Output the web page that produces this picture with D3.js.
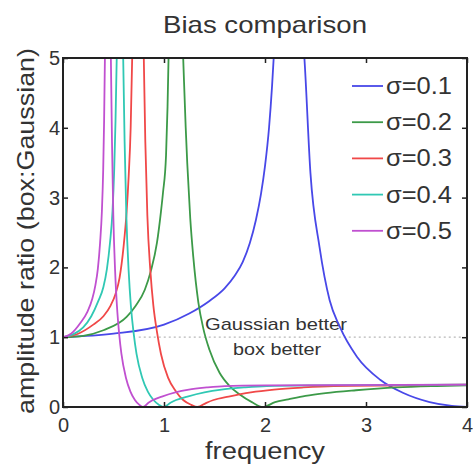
<!DOCTYPE html>
<html>
<head>
<meta charset="utf-8">
<style>
  body { margin: 0; background: #fff; }
  svg { display: block; font-family: "Liberation Sans", Arial, sans-serif; }
</style>
</head>
<body>
<script src="https://d3js.org/d3.v7.min.js"></script>
<script>
// values: [frequency, amplitude ratio], null = break at the asymptote
const freqTicks = [0, 1, 2, 3, 4];
const ampTicks = [0, 1, 2, 3, 4, 5];
const sigmaLabels = ["σ=0.1", "σ=0.2", "σ=0.3", "σ=0.4", "σ=0.5"];
const sigmaColors = ["#4848e8", "#3c9a48", "#f04848", "#30c8b4", "#c050d0"];

const sigma01 = [[0,1],[0.5,1.05],[1.0,1.18],[1.25,1.34],[1.45,1.52],[1.6,1.7],[1.7,1.88],[1.78,2.08],
  [1.85,2.35],[1.91,2.68],[1.96,3.05],[2.0,3.45],[2.04,4.0],[2.07,4.6],[2.09,5.1],[2.1,5.4], null,
  [2.37,5.4],[2.39,5.0],[2.45,3.35],[2.54,2.29],[2.64,1.53],[2.74,1.15],[2.91,0.72],[3.14,0.39],
  [3.37,0.2],[3.63,0.07],[3.85,0.015],[4,0]];
const sigma02 = [[0,1],[0.2,1.02],[0.4,1.1],[0.63,1.29],[0.72,1.45],[0.81,1.68],[0.87,1.95],[0.93,2.35],
  [0.97,2.8],[0.99,3.07],[1.02,3.6],[1.035,4.3],[1.045,5.0],[1.05,5.4], null,
  [1.18,5.4],[1.19,5.0],[1.215,4.0],[1.23,3.5],[1.26,2.7],[1.29,2.15],[1.34,1.5],[1.39,1.12],[1.45,0.82],
  [1.55,0.49],[1.65,0.3],[1.75,0.18],[1.87,0.07],[1.98,0],[2.1,0.07],[2.23,0.11],[2.4,0.16],[2.6,0.2],
  [2.9,0.24],[3.3,0.28],[3.7,0.3],[4,0.31]];
const sigma03 = [[0,1],[0.15,1.05],[0.3,1.18],[0.4,1.3],[0.47,1.45],[0.52,1.62],[0.56,1.85],[0.6,2.3],
  [0.63,2.8],[0.65,3.3],[0.67,4.0],[0.685,5.0],[0.69,5.4], null,
  [0.795,5.4],[0.8,5.0],[0.815,3.8],[0.835,2.75],[0.865,1.95],[0.895,1.45],[0.93,1.08],[0.97,0.76],
  [1.04,0.42],[1.12,0.22],[1.19,0.1],[1.27,0.03],[1.33,0],[1.42,0.06],[1.49,0.1],[1.64,0.15],[1.86,0.21],
  [2.09,0.25],[2.38,0.28],[2.68,0.3],[3.35,0.31],[4,0.32]];
const sigma04 = [[0,1],[0.1,1.04],[0.2,1.14],[0.28,1.3],[0.35,1.52],[0.4,1.72],[0.435,1.98],[0.465,2.35],
  [0.49,2.8],[0.507,3.4],[0.52,4.1],[0.532,5.0],[0.536,5.4], null,
  [0.592,5.4],[0.596,5.0],[0.61,3.8],[0.627,2.75],[0.65,1.95],[0.672,1.45],[0.7,1.05],[0.728,0.76],
  [0.784,0.42],[0.84,0.22],[0.896,0.1],[0.952,0.03],[0.997,0],[1.064,0.06],[1.12,0.1],[1.232,0.15],
  [1.4,0.21],[1.568,0.25],[1.792,0.28],[2.016,0.3],[2.52,0.31],[4,0.32]];
const sigma05 = [[0,1],[0.08,1.05],[0.17,1.2],[0.24,1.36],[0.29,1.55],[0.32,1.74],[0.345,1.98],[0.367,2.35],
  [0.385,2.8],[0.398,3.4],[0.407,4.1],[0.415,5.0],[0.418,5.4], null,
  [0.471,5.4],[0.474,5.0],[0.485,3.8],[0.498,2.75],[0.516,1.95],[0.534,1.45],[0.556,1.05],[0.5785,0.76],
  [0.623,0.42],[0.6675,0.22],[0.712,0.1],[0.7565,0.03],[0.792,0],[0.846,0.06],[0.89,0.1],[0.979,0.15],
  [1.1125,0.21],[1.246,0.25],[1.424,0.28],[1.602,0.3],[2.0,0.31],[4,0.32]];
const allSeries = [sigma01, sigma02, sigma03, sigma04, sigma05];

const W = 473, H = 465;
const L = 63, R = 467, T = 58, B = 407;

const svg = d3.select("body").append("svg").attr("width", W).attr("height", H);

const x = d3.scaleLinear().domain([0, 4]).range([L, R]);
const y = d3.scaleLinear().domain([0, 5]).range([B, T]);

svg.append("clipPath").attr("id", "plot")
  .append("rect").attr("x", L).attr("y", T).attr("width", R - L).attr("height", B - T);

// dotted reference line at ratio 1
svg.append("line")
  .attr("x1", x(0.75)).attr("x2", x(3.95))
  .attr("y1", y(1)).attr("y2", y(1))
  .attr("stroke", "#b8b8b8").attr("stroke-width", 1.2)
  .attr("stroke-dasharray", "2,3");

svg.append("text").attr("x", 276).attr("y", 330)
  .attr("text-anchor", "middle").attr("font-size", 17).attr("fill", "#333")
  .attr("textLength", 142).attr("lengthAdjust", "spacingAndGlyphs")
  .text("Gaussian better");
svg.append("text").attr("x", 277).attr("y", 355)
  .attr("text-anchor", "middle").attr("font-size", 17).attr("fill", "#333")
  .attr("textLength", 88).attr("lengthAdjust", "spacingAndGlyphs")
  .text("box better");

const line = d3.line()
  .defined(d => d !== null)
  .x(d => x(d[0]))
  .y(d => y(d[1]))
  .curve(d3.curveMonotoneX);

svg.append("g").attr("clip-path", "url(#plot)")
  .selectAll("path")
  .data(allSeries)
  .enter()
  .append("path")
  .attr("d", d => line(d))
  .attr("fill", "none")
  .attr("stroke", (d, i) => sigmaColors[i])
  .attr("stroke-width", 1.8);

// axes, MATLAB style inward ticks
const xAxis = svg.append("g").attr("transform", `translate(0,${B})`)
  .call(d3.axisBottom(x).tickValues(freqTicks).tickSize(-5).tickPadding(11).tickFormat(d3.format("d")));
const yAxis = svg.append("g").attr("transform", `translate(${L},0)`)
  .call(d3.axisLeft(y).tickValues(ampTicks).tickSize(-5).tickPadding(3).tickFormat(d3.format("d")));
const xTop = svg.append("g").attr("transform", `translate(0,${T})`)
  .call(d3.axisTop(x).tickValues(freqTicks).tickSize(-5).tickFormat(""));
const yRight = svg.append("g").attr("transform", `translate(${R},0)`)
  .call(d3.axisRight(y).tickValues(ampTicks).tickSize(-5).tickFormat(""));

[xAxis, yAxis, xTop, yRight].forEach(a => {
  a.select(".domain").remove();
  a.selectAll(".tick line").attr("stroke", "#222").attr("stroke-width", 1.5);
  a.selectAll("text").attr("font-size", 20).attr("fill", "#333")
    .attr("font-family", "'Liberation Sans', Arial, sans-serif");
});

svg.append("rect")
  .attr("x", L).attr("y", T).attr("width", R - L).attr("height", B - T)
  .attr("fill", "none").attr("stroke", "#222").attr("stroke-width", 2);

// legend
const legend = svg.append("g");
const legItems = legend.selectAll("g").data(sigmaLabels).enter().append("g")
  .attr("transform", (d, i) => `translate(0,${86 + i * 36.2})`);
legItems.append("line")
  .attr("x1", 352).attr("x2", 383).attr("y1", 0).attr("y2", 0)
  .attr("stroke", (d, i) => sigmaColors[i]).attr("stroke-width", 1.8);
legItems.append("text")
  .attr("x", 386).attr("y", 8)
  .attr("font-size", 23).attr("fill", "#333")
  .attr("textLength", 66).attr("lengthAdjust", "spacingAndGlyphs")
  .text(d => d);

svg.append("text").attr("x", 265).attr("y", 33)
  .attr("text-anchor", "middle").attr("font-size", 24).attr("fill", "#333")
  .attr("textLength", 204).attr("lengthAdjust", "spacingAndGlyphs")
  .text("Bias comparison");

svg.append("text").attr("x", 265).attr("y", 459)
  .attr("text-anchor", "middle").attr("font-size", 23).attr("fill", "#333")
  .attr("textLength", 120).attr("lengthAdjust", "spacingAndGlyphs")
  .text("frequency");

svg.append("text")
  .attr("transform", "translate(34,231) rotate(-90)")
  .attr("text-anchor", "middle").attr("font-size", 24).attr("fill", "#333")
  .attr("textLength", 366).attr("lengthAdjust", "spacingAndGlyphs")
  .text("amplitude ratio (box:Gaussian)");
</script>
</body>
</html>
